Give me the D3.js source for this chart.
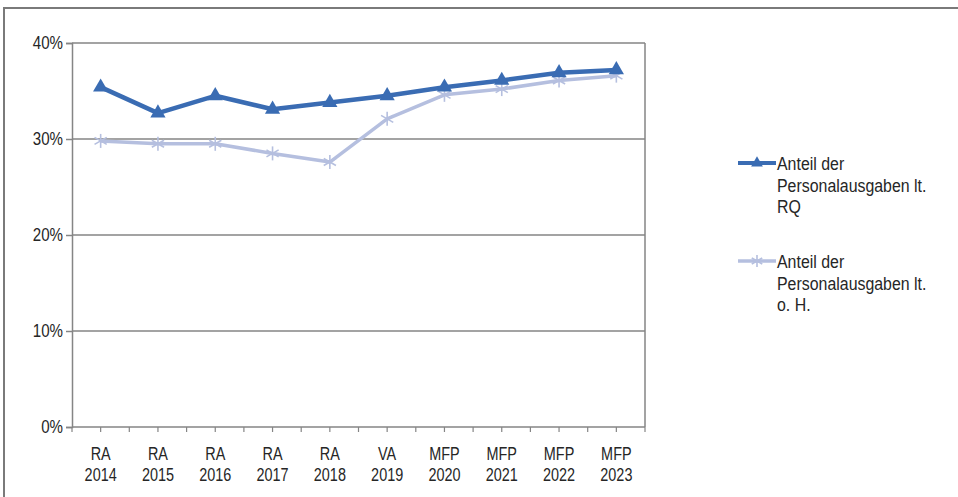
<!DOCTYPE html>
<html>
<head>
<meta charset="utf-8">
<script src="https://cdn.jsdelivr.net/npm/d3@7"></script>
<style>
  html, body { margin: 0; padding: 0; background: #fff; }
  svg { display: block; }
  text { font-family: "Liberation Sans", Arial, sans-serif; fill: #262626; }
</style>
</head>
<body>
<svg id="chart" width="958" height="497"></svg>
<script>
// Budget stage and year for each category (two-line axis labels)
const stages = ["RA", "RA", "RA", "RA", "RA", "VA", "MFP", "MFP", "MFP", "MFP"];
const years = ["2014", "2015", "2016", "2017", "2018", "2019", "2020", "2021", "2022", "2023"];

// Share of personnel expenditure, in percent
const shareRQ = [35.4, 32.7, 34.5, 33.1, 33.8, 34.5, 35.4, 36.1, 36.9, 37.2];
const shareOH = [29.8, 29.5, 29.5, 28.5, 27.6, 32.1, 34.6, 35.2, 36.1, 36.6];

const yTicks = [0, 10, 20, 30, 40];

const seriesNames = [
  ["Anteil der", "Personalausgaben lt.", "RQ"],
  ["Anteil der", "Personalausgaben lt.", "o. H."]
];

const colRQ = "#3a6cb3";
const colOH = "#b5bfdf";
const gridCol = "#858585";

const svg = d3.select("#chart");
const plot = { left: 72, right: 645, top: 43, bottom: 427 };

// Outer frame (top and left edges)
svg.append("path")
  .attr("d", `M4,497 V8 H958`)
  .attr("fill", "none").attr("stroke", "#7a7a7a").attr("stroke-width", 2);

const x = d3.scaleBand().domain(years).range([plot.left, plot.right]).padding(0);
const y = d3.scaleLinear().domain([0, 40]).range([plot.bottom, plot.top]);

// Horizontal grid lines
svg.append("g").selectAll("line").data(yTicks.filter(d => d > 0)).join("line")
  .attr("x1", plot.left).attr("x2", plot.right)
  .attr("y1", d => y(d)).attr("y2", d => y(d))
  .attr("stroke", gridCol).attr("stroke-width", 1.5);

// Right plot border
svg.append("line")
  .attr("x1", plot.right).attr("x2", plot.right)
  .attr("y1", plot.top).attr("y2", plot.bottom)
  .attr("stroke", gridCol).attr("stroke-width", 1.5);

// Y axis
const yAxis = svg.append("g").attr("transform", `translate(${plot.left},0)`)
  .call(d3.axisLeft(y).tickValues(yTicks).tickFormat(d => d + "%").tickSize(6).tickPadding(6));
yAxis.select(".domain").attr("stroke", gridCol).attr("stroke-width", 1.5);
yAxis.selectAll(".tick line").attr("stroke", gridCol).attr("stroke-width", 1.5);
yAxis.selectAll(".tick text")
  .attr("font-size", 18)
  .style("fill", "#262626")
  .attr("transform", "scale(0.84,1)")
  .attr("x", -9 / 0.84);

// X axis line with tick marks at band edges and band centres
const halfSteps = d3.range(0, years.length * 2 + 1).map(i => plot.left + i * x.bandwidth() / 2);
svg.append("line")
  .attr("x1", plot.left).attr("x2", plot.right)
  .attr("y1", plot.bottom).attr("y2", plot.bottom)
  .attr("stroke", gridCol).attr("stroke-width", 1.5);
svg.append("g").selectAll("line").data(halfSteps).join("line")
  .attr("x1", d => d).attr("x2", d => d)
  .attr("y1", plot.bottom).attr("y2", plot.bottom + 5)
  .attr("stroke", gridCol).attr("stroke-width", 1.2);

// Category labels (stage above year), horizontally condensed
const xl = svg.append("g").selectAll("g").data(years).join("g")
  .attr("transform", d => `translate(${x(d) + x.bandwidth() / 2},0)`);
xl.append("text")
  .attr("text-anchor", "middle").attr("font-size", 19)
  .attr("transform", "translate(0,460) scale(0.76,1)")
  .text((d, i) => stages[i]);
xl.append("text")
  .attr("text-anchor", "middle").attr("font-size", 19)
  .attr("transform", "translate(0,481) scale(0.76,1)")
  .text(d => d);

const cx = (d, i) => x(years[i]) + x.bandwidth() / 2;

// o. H. series: light line with star markers
const lineOH = d3.line().x(cx).y(d => y(d));
svg.append("path").datum(shareOH)
  .attr("d", lineOH).attr("fill", "none")
  .attr("stroke", colOH).attr("stroke-width", 3.5).attr("stroke-linejoin", "round");

function star(g, col, r) {
  const arms = [[0, -r, 0, r], [-r * 0.87, -r * 0.5, r * 0.87, r * 0.5], [-r * 0.87, r * 0.5, r * 0.87, -r * 0.5]];
  g.selectAll("line.arm").data(arms).join("line").attr("class", "arm")
    .attr("x1", a => a[0]).attr("y1", a => a[1]).attr("x2", a => a[2]).attr("y2", a => a[3])
    .attr("stroke", col).attr("stroke-width", 1.6);
}
svg.append("g").selectAll("g").data(shareOH).join("g")
  .attr("transform", (d, i) => `translate(${cx(d, i)},${y(d)})`)
  .each(function () { star(d3.select(this), colOH, 7); });

// RQ series: dark blue line with triangle markers
const lineRQ = d3.line().x(cx).y(d => y(d));
svg.append("path").datum(shareRQ)
  .attr("d", lineRQ).attr("fill", "none")
  .attr("stroke", colRQ).attr("stroke-width", 4.5).attr("stroke-linejoin", "round");
svg.append("g").selectAll("path").data(shareRQ).join("path")
  .attr("transform", (d, i) => `translate(${cx(d, i)},${y(d)})`)
  .attr("d", d3.symbol().type(d3.symbolTriangle).size(100))
  .attr("fill", colRQ);

// Legend
const legend = svg.append("g");
const legendRows = [
  { y: 163, col: colRQ, w: 4, names: seriesNames[0], marker: "tri" },
  { y: 261, col: colOH, w: 3.5, names: seriesNames[1], marker: "star" }
];
legendRows.forEach(r => {
  const g = legend.append("g");
  g.append("line").attr("x1", 738).attr("x2", 776).attr("y1", r.y).attr("y2", r.y)
    .attr("stroke", r.col).attr("stroke-width", r.w);
  if (r.marker === "tri") {
    g.append("path").attr("transform", `translate(757,${r.y})`)
      .attr("d", d3.symbol().type(d3.symbolTriangle).size(60)).attr("fill", r.col);
  } else {
    const s = g.append("g").attr("transform", `translate(757,${r.y})`);
    star(s, r.col, 6);
  }
  r.names.forEach((t, k) => {
    g.append("text")
      .attr("transform", `translate(777,${r.y + 7 + k * 21.5}) scale(0.86,1)`)
      .attr("font-size", 18.5)
      .text(t);
  });
});
</script>
</body>
</html>
